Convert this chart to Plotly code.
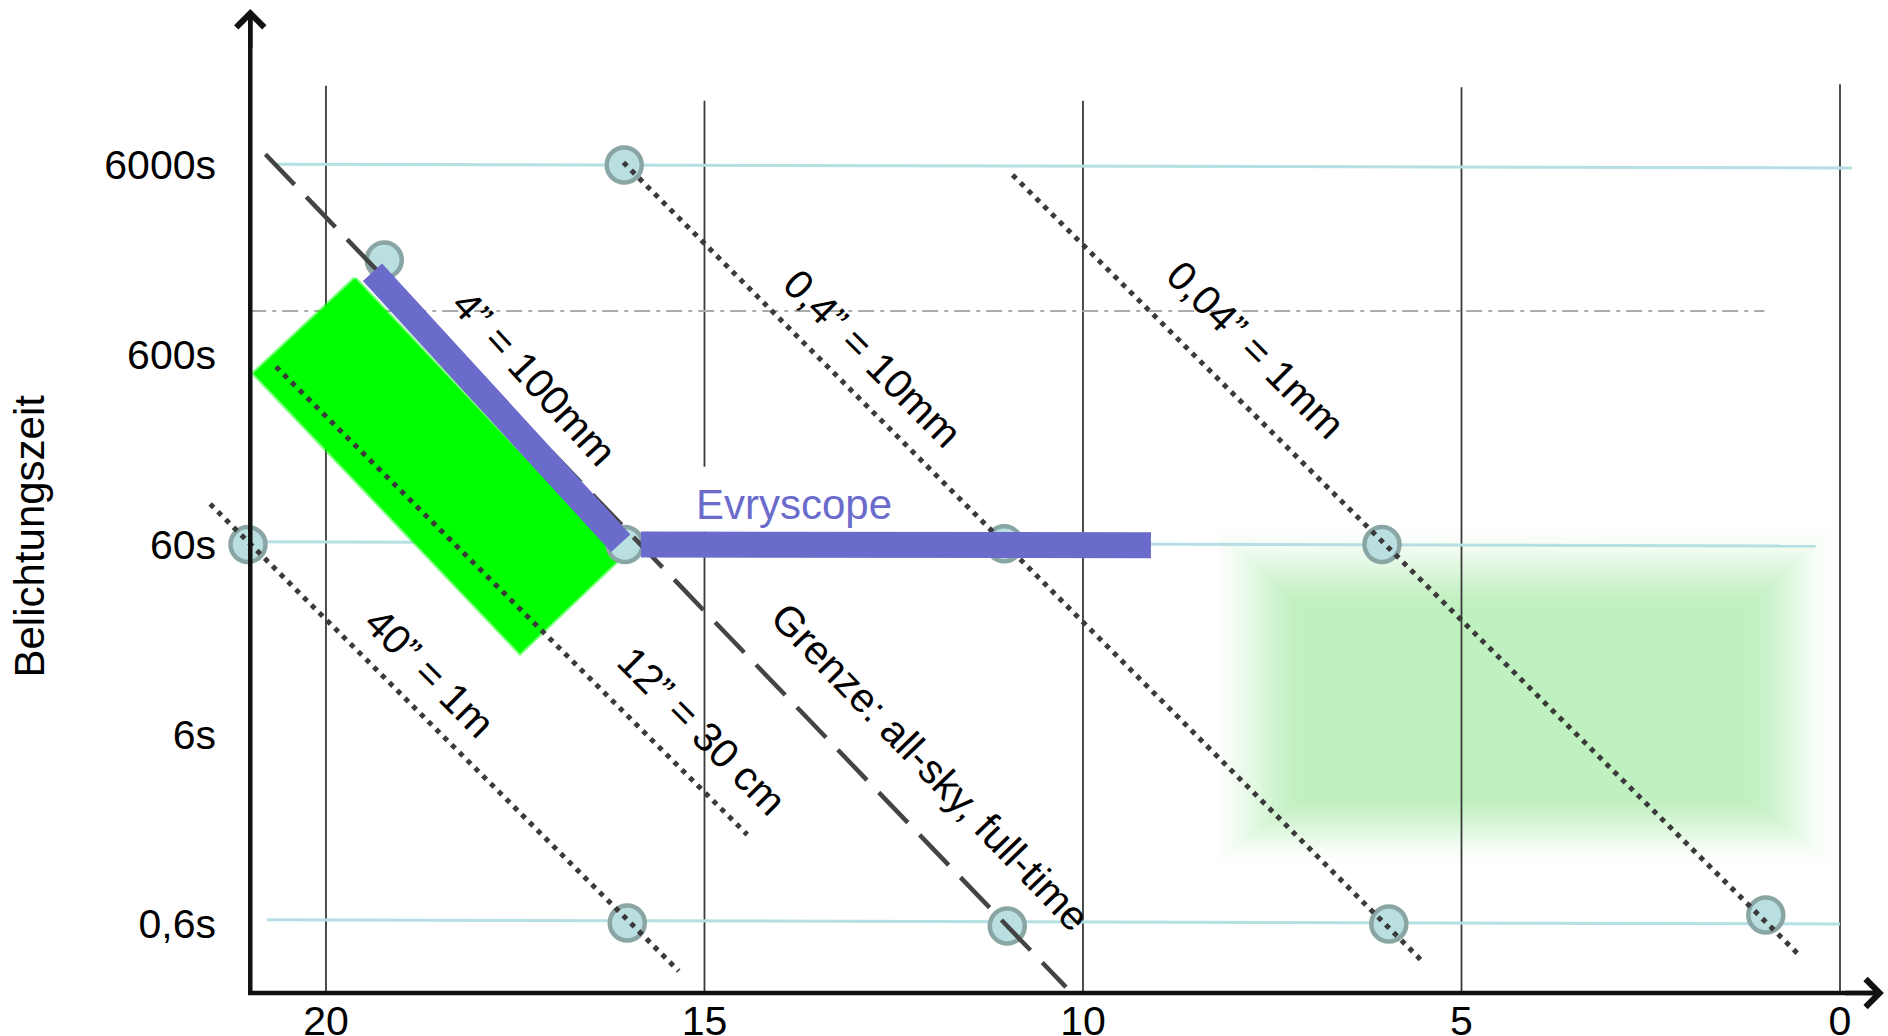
import math
import numpy as np
import plotly.graph_objects as go

# ---------------- data ----------------
# axes
x_ticks = [20, 15, 10, 5, 0]
x_ticktext = ["20", "15", "10", "5", "0"]
y_ticks = [6000, 600, 60, 6, 0.6]
y_ticktext = ["6000s", "600s", "60s", "6s", "0,6s"]

# vertical grid lines (at the x ticks) and their upper ends (s)
grid_x = [20, 15, 10, 5, 0]
grid_top = [15700, 13100, 13100, 15400, 16000]
grid15_gap = [154, 70]          # the "15" line is hidden behind the Evryscope label

# light-blue reference lines (6000s, 60s, 0.6s)
guide_x = [[20.65, -0.16], [21.0, 0.32], [20.78, 0.0]]
guide_y = [[6050, 5790], [62, 58.9], [0.632, 0.6]]

# grey dash-dot line
dashdot_x = [21.0, 1.0]
dashdot_y = [1020, 1020]

# circles
circle_x = [16.06, 19.23, 21.03, 16.02, 16.05, 11.04, 11.0, 6.05, 5.96, 0.98]
circle_y = [6000, 1894, 60, 0.607, 60, 60.5, 0.586, 60, 0.6, 0.669]

# dotted aperture lines
dot_lines_x = [[21.53, 15.34], [20.66, 14.435], [16.07, 5.49], [10.93, 0.514]]
dot_lines_y = [[98.1, 0.339], [519, 1.775], [6180, 0.372], [5314, 0.402]]

# dashed limit line
dash_x = [20.80, 10.225]
dash_y = [6831, 0.279]

# Evryscope bars
evry_diag_x = [19.386, 16.106]
evry_diag_y = [1634, 60.9]
evry_hor_x = [15.839, 9.102]
evry_hor_y = [60, 59.5]

# bright green region
green_x = [19.617, 20.960, 17.437, 16.116]
green_y = [1517, 479, 16.0, 50.7]

# pale green (blurred) region: inner solid box and outer fade box
lg_inner_x = [7.00, 1.32]
lg_inner_y = [3.05, 25.5]
lg_outer_x = [8.39, 0.0]
lg_outer_y = [1.155, 80.8]
lg_color = (191, 240, 191)

# diagonal labels
labels = ["4\u201d = 100mm", "0,4\u201d = 10mm", "0,04\u201d = 1mm",
          "40\u201d = 1m", "12\u201d = 30 cm", "Grenze: all-sky, full-time"]
label_x = [17.252, 12.787, 7.715, 18.630, 15.038, 12.017]
label_y = [451, 577, 636, 12.6, 6.24, 4.03]
label_angle = [47.5, 45, 45, 45, 45, 46]

evry_label = "Evryscope"
evry_label_x = 13.824
evry_label_y = 98

y_title = "Belichtungszeit"

# ---------------- layout constants ----------------
X_RANGE = [21.664, -0.6077]
Y_RANGE = [-0.62238, 4.62136]       # log10 units
Y_AXIS_X = 21.0
X_AXIS_Y = 0.2597
X_ARROW_TIP = -0.58
Y_ARROW_TIP = 39840
FONT = "Liberation Sans, Arial, sans-serif"
BLUE = "#6b6bcb"

fig = go.Figure()

def line(x, y, color, width, dash=None):
    fig.add_trace(go.Scatter(x=x, y=y, mode="lines",
                             line=dict(color=color, width=width, dash=dash),
                             hoverinfo="skip", showlegend=False))

# pale green blurred rectangle: nested opaque boxes stepping from white to the fill colour
N = 26
lo_o, hi_o = math.log10(lg_outer_y[0]), math.log10(lg_outer_y[1])
lo_i, hi_i = math.log10(lg_inner_y[0]), math.log10(lg_inner_y[1])
for i in range(N):
    u = (i + 0.5) / N
    t = 0.5 - math.sin(math.asin(1 - 2 * u) / 3)
    lev = (i + 1) / N
    col = tuple(round(255 + (c - 255) * lev) for c in lg_color)
    x0 = lg_outer_x[0] + (lg_inner_x[0] - lg_outer_x[0]) * t
    x1 = lg_outer_x[1] + (lg_inner_x[1] - lg_outer_x[1]) * t
    y0 = 10 ** (lo_o + (lo_i - lo_o) * t)
    y1 = 10 ** (hi_o + (hi_i - hi_o) * t)
    fig.add_trace(go.Scatter(x=[x0, x1, x1, x0, x0], y=[y0, y0, y1, y1, y0],
                             mode="none", fill="toself",
                             fillcolor="rgb(%d,%d,%d)" % col,
                             hoverinfo="skip", showlegend=False))

# vertical grid lines
for gx, gt in zip(grid_x, grid_top):
    if gx == 15:
        line([gx, gx, None, gx, gx], [gt, grid15_gap[0], None, grid15_gap[1], X_AXIS_Y], "#3a3a3a", 1.8)
    else:
        line([gx, gx], [gt, X_AXIS_Y], "#3a3a3a", 1.8)

# light-blue lines
for gx, gy in zip(guide_x, guide_y):
    line(gx, gy, "#b5dfe2", 3)

# dash-dot line
line(dashdot_x, dashdot_y, "#aaaaaa", 2, "16px,6px,4px,6px")

# bright green region
fig.add_trace(go.Scatter(x=green_x + green_x[:1], y=green_y + green_y[:1],
                         mode="lines", fill="toself", fillcolor="#00ff00",
                         line=dict(color="rgba(0,255,0,0.5)", width=4),
                         hoverinfo="skip", showlegend=False))

# circles
fig.add_trace(go.Scatter(x=circle_x, y=circle_y, mode="markers",
                         marker=dict(size=35, color="#b9dfe0",
                                     line=dict(color="#8aa6a4", width=4.5)),
                         hoverinfo="skip", showlegend=False))

# dotted lines
for dx, dy in zip(dot_lines_x, dot_lines_y):
    line(dx, dy, "#3a3a3a", 5, "5px,6px")

# dashed limit line
line(dash_x, dash_y, "#444444", 4.5, "42px,17px")

# Evryscope bars
line(evry_diag_x, evry_diag_y, BLUE, 26)
line(evry_hor_x, evry_hor_y, BLUE, 26)

# axes lines
line([Y_AXIS_X + 0.03, X_ARROW_TIP + 0.05], [X_AXIS_Y, X_AXIS_Y], "#111111", 4.5)
line([Y_AXIS_X, Y_AXIS_X], [X_AXIS_Y * 0.985, 37000], "#111111", 4.5)

annotations = []
# arrow heads
annotations.append(dict(x=Y_AXIS_X, y=math.log10(Y_ARROW_TIP), xref="x", yref="y",
                        ax=0, ay=40, showarrow=True, arrowhead=4, arrowsize=1.2,
                        arrowwidth=4.5, arrowcolor="#111111", text=""))
annotations.append(dict(x=X_ARROW_TIP, y=math.log10(X_AXIS_Y), xref="x", yref="y",
                        ax=-40, ay=0, showarrow=True, arrowhead=4, arrowsize=1.2,
                        arrowwidth=4.5, arrowcolor="#111111", text=""))

# diagonal labels
for txt, lx, ly, ang in zip(labels, label_x, label_y, label_angle):
    annotations.append(dict(x=lx, y=math.log10(ly), xref="x", yref="y",
                            text=txt, showarrow=False, textangle=ang,
                            font=dict(size=41, color="black", family=FONT),
                            xanchor="center", yanchor="middle"))

annotations.append(dict(x=evry_label_x, y=math.log10(evry_label_y), xref="x", yref="y",
                        text=evry_label, showarrow=False,
                        font=dict(size=42, color=BLUE, family=FONT),
                        xanchor="center", yanchor="middle"))

annotations.append(dict(x=(30 - 200) / 1686, y=0.4658, xref="paper", yref="paper",
                        text=y_title, showarrow=False, textangle=-90,
                        font=dict(size=42, color="black", family=FONT),
                        xanchor="center", yanchor="middle"))

fig.update_layout(
    width=1888, height=1036,
    margin=dict(l=200, r=2, t=5, b=36),
    paper_bgcolor="white", plot_bgcolor="white",
    showlegend=False,
    font=dict(family=FONT, color="black"),
    xaxis=dict(range=X_RANGE, tickvals=x_ticks, ticktext=x_ticktext,
               showgrid=False, zeroline=False, showline=False, ticks="",
               anchor="free", position=0.007,
               tickfont=dict(size=41, color="black"), automargin=False),
    yaxis=dict(type="log", range=Y_RANGE, tickvals=y_ticks, ticktext=y_ticktext,
               showgrid=False, zeroline=False, showline=False, ticks="",
               anchor="free", position=(250 - 200) / 1686,
               ticklabelstandoff=34,
               tickfont=dict(size=41, color="black"), automargin=False),
    annotations=annotations,
)

fig.write_html("out.html", config={"displayModeBar": False},
               post_script="document.body.style.margin='0px';document.body.style.overflow='hidden';")
